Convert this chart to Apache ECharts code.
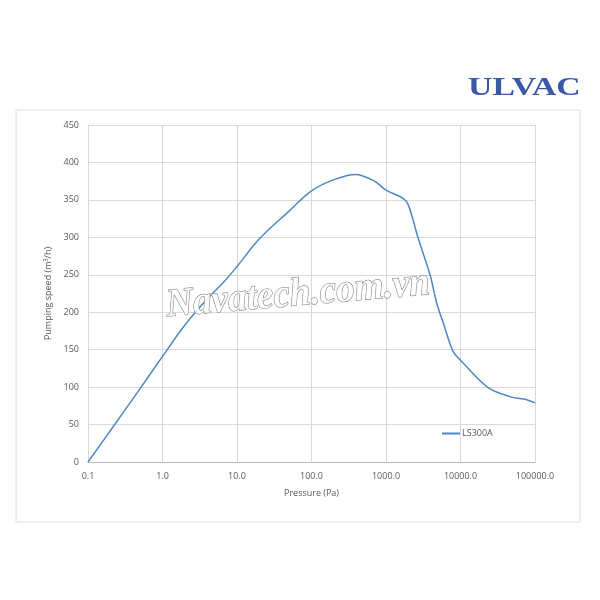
<!DOCTYPE html>
<html><head><meta charset="utf-8">
<script src="https://cdn.jsdelivr.net/npm/echarts@6/dist/echarts.min.js"></script>
<style>html,body{margin:0;padding:0;background:#fff}#c{width:600px;height:600px}</style>
</head><body><div id="c"></div>
<script>
const pressure = [0.1, 0.2, 0.5, 1.0, 2.0, 4.0, 6.6, 10, 20, 50, 100, 200, 390, 700, 1000, 1700, 2000, 2700, 3900, 4800, 5900, 8000, 10000, 23000, 47000, 71000, 100000];
const speed    = [0,   42,  98,  141, 183, 218, 240, 261, 298, 335, 362, 377, 384, 375, 363, 352, 343, 299, 250, 212, 185, 147, 136, 100, 87, 84, 79];
const seriesName = 'LS300A';
const xTitle = 'Pressure (Pa)';
const yTitle = 'Pumping speed (m\u00B3/h)';

const chart = echarts.init(document.getElementById('c'));
const txt = '#595959';
chart.setOption({
  backgroundColor: '#fff',
  animation: false,
  grid: {left: 88, right: 65, top: 125, bottom: 138},
  legend: {
    data: [{name: seriesName, icon: 'rect'}], left: 437, top: 424, itemWidth: 18, itemHeight: 2, itemGap: 2,
    itemStyle: {color: '#4f87c2'},
    textStyle: {fontSize: 9, color: txt, fontFamily: 'Open Sans', padding: [0, 0, 0, -3]}
  },
  xAxis: {
    type: 'log', logBase: 10, min: 0.1, max: 100000,
    name: xTitle, nameLocation: 'middle', nameGap: 27,
    nameTextStyle: {fontSize: 9, color: txt, fontFamily: 'Open Sans'},
    axisLine: {show: true, lineStyle: {color: '#bfbfbf'}},
    axisTick: {show: false},
    axisLabel: {fontSize: 9, color: txt, fontFamily: 'Open Sans', margin: 10,
      formatter: v => Number(v).toFixed(1)},
    splitLine: {show: true, lineStyle: {color: '#d9d9d9'}}
  },
  yAxis: {
    type: 'value', min: 0, max: 450, interval: 50,
    name: yTitle, nameLocation: 'middle', nameGap: 27,
    nameTextStyle: {fontSize: 9, color: txt, fontFamily: 'Open Sans'},
    axisLine: {show: false}, axisTick: {show: false},
    axisLabel: {fontSize: 9, color: txt, fontFamily: 'Open Sans', margin: 9},
    splitLine: {lineStyle: {color: '#d9d9d9'}}
  },
  series: [{
    name: seriesName, type: 'line', smooth: 0.35, symbol: 'none', showSymbol: false,
    lineStyle: {color: '#4f87c2', width: 1.5}, itemStyle: {color: '#4f87c2'},
    data: pressure.map((p, i) => [p, speed[i]])
  }],
  graphic: [
    {type: 'rect', shape: {x: 16, y: 110, width: 564, height: 412}, style: {fill: 'none', stroke: '#dcdcdc', lineWidth: 1}, z: -1},
    {type: 'text', x: 468, y: 101, scaleX: 1.3, style: {text: 'ULVAC', fill: '#3a5aa8', font: 'bold 26px "Liberation Serif", serif', textVerticalAlign: 'bottom'}},
    {type: 'text', x: 168, y: 326, rotation: 0.085, scaleX: 0.93, z: 10,
     style: {text: 'Navatech.com.vn', fill: 'rgba(255,255,255,0.85)', stroke: '#777', lineWidth: 1,
       font: 'italic bold 40px "Liberation Serif", serif', textVerticalAlign: 'bottom'}}
  ]
});
</script></body></html>
